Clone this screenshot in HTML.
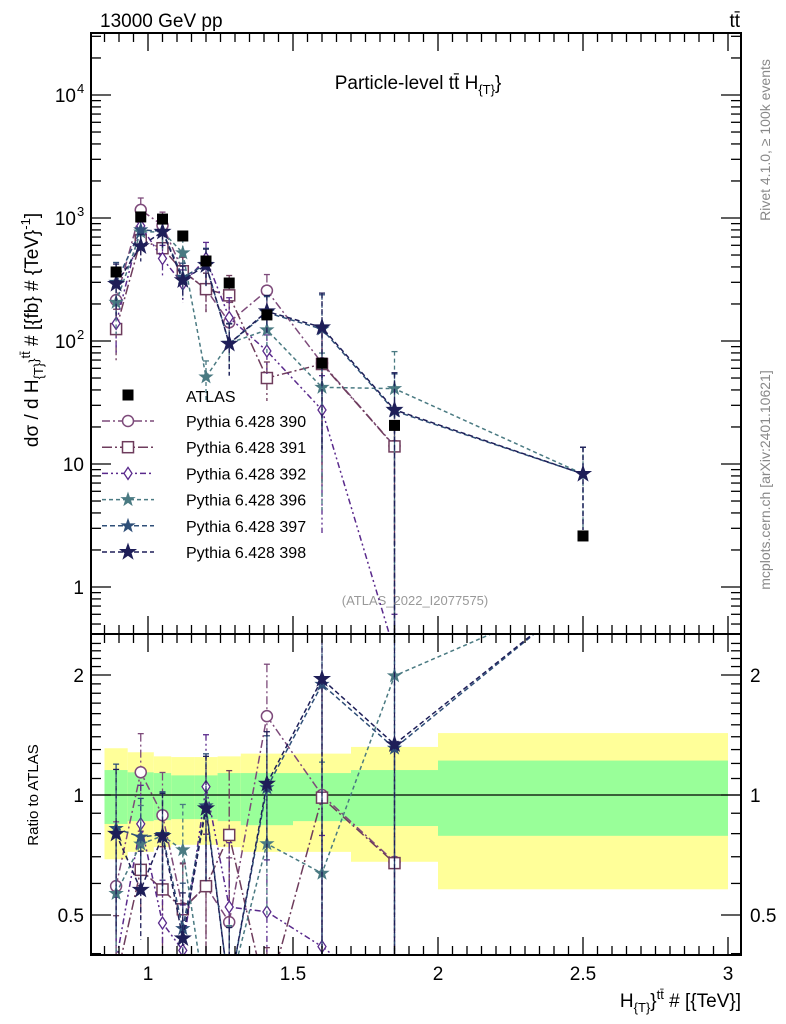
<!DOCTYPE html>
<html><head><meta charset="utf-8">
<style>
html,body{margin:0;padding:0;background:#fff;overflow:hidden;width:786px;height:1024px;}
svg{display:block;font-family:"Liberation Sans",sans-serif;}
</style></head>
<body>
<svg id="c" width="786" height="1024" viewBox="0 0 786 1024" xmlns="http://www.w3.org/2000/svg">
<rect width="786" height="1024" fill="#fff"/>
<text x="100" y="27" font-size="19">13000 GeV pp</text>
<text x="740" y="27" font-size="19" text-anchor="end">tt̄</text>
<text x="418" y="89" font-size="19" text-anchor="middle">Particle-level tt̄  H<tspan font-size="13" dy="5">{T}</tspan><tspan dy="-5">}</tspan></text>
<text transform="translate(38,330) rotate(-90)" font-size="19" text-anchor="middle">dσ / d H<tspan font-size="13" dy="5">{T}</tspan><tspan font-size="13" dy="-5">}</tspan><tspan font-size="13" dy="-8">tt̄</tspan><tspan dy="8"> # [{fb} # {TeV}</tspan><tspan font-size="13" dy="-8">-1</tspan><tspan dy="8">]</tspan></text>
<text transform="translate(770,140) rotate(-90)" font-size="14" fill="#888" text-anchor="middle">Rivet 4.1.0, ≥ 100k events</text>
<text transform="translate(770,480) rotate(-90)" font-size="14" fill="#888" text-anchor="middle">mcplots.cern.ch [arXiv:2401.10621]</text>
<text x="415" y="605" font-size="13" fill="#999" text-anchor="middle">(ATLAS_2022_I2077575)</text>
<text transform="translate(38,795) rotate(-90)" font-size="15" text-anchor="middle">Ratio to ATLAS</text>
<text x="741" y="1007" font-size="19" text-anchor="end">H<tspan font-size="13" dy="5">{T}</tspan><tspan dy="-5">}</tspan><tspan font-size="13" dy="-8">tt̄</tspan><tspan dy="8"> # [{TeV}]</tspan></text>
<g id="g"></g>
</svg>
<script>
const binEdges=[0.85,0.93,1.02,1.08,1.16,1.24,1.32,1.5,1.7,2.0,3.0];
const centers=[0.89,0.975,1.05,1.12,1.2,1.28,1.41,1.6,1.85,2.5];
const atlas=[364,1020,980,714,447,296,163,66,20.6,2.6];
const bandTotalUp=[1.31,1.28,1.25,1.245,1.245,1.25,1.27,1.27,1.32,1.43];
const bandTotalDn=[0.69,0.72,0.74,0.75,0.75,0.74,0.72,0.72,0.68,0.58];
const bandStatUp=[1.155,1.14,1.135,1.12,1.12,1.135,1.135,1.135,1.155,1.22];
const bandStatDn=[0.846,0.86,0.865,0.87,0.87,0.86,0.84,0.86,0.836,0.79];
const p390=[215,1163,872,371,264,142,257,66,14,null];
const p391=[125,662,568,369,264,235,50,65,13.9,null];
const p392=[139,863,468,291,469,155,83,27.5,0.3,null];
const p396=[206,768,774,520,51,96,123,42,41,8.3];
const p397=[300,800,780,330,420,95,170,125,27,8.3];
const p398=[291,590,773,312,414,95,174,129,27.6,8.3];
const relErr=[0.45,0.25,0.28,0.3,0.35,0.45,0.35,0.9,1.0,0.65];
const mainTicks=[[10000,"10"],[1000,"10"],[100,"10"],[10,"10"],[1,"1"]];
const mainExp=["4","3","2","",""];
const ratioTicks=[2,1,0.5];
const xTicks=[1,1.5,2,2.5,3];

const NS="http://www.w3.org/2000/svg";
const L=91,R=741,T=33,M=634,B=955;
const X=v=>148+(v-1)*290;
const Y=v=>218-(Math.log10(Math.max(v,0.3))-3)*123;
const YR=v=>795-Math.log2(Math.max(v,0.3))*120;
const g=document.getElementById('g');
function el(t,a,p){const e=document.createElementNS(NS,t);for(const k in a)e.setAttribute(k,a[k]);(p||g).appendChild(e);return e;}

const defs=el('defs',{});
const c1=el('clipPath',{id:'cm'},defs);el('rect',{x:L,y:T,width:R-L,height:M-T},c1);
const c2=el('clipPath',{id:'cr'},defs);el('rect',{x:L,y:M,width:R-L,height:B-M},c2);

const gb=el('g',{'clip-path':'url(#cr)'});
for(let i=0;i<centers.length;i++){
  const x0=X(binEdges[i]),x1=X(binEdges[i+1]);
  const y=el('rect',{x:x0,y:YR(bandTotalUp[i]),width:x1-x0,height:YR(bandTotalDn[i])-YR(bandTotalUp[i]),fill:'#ffff99'},gb);
  
  
  const gr=el('rect',{x:x0,y:YR(bandStatUp[i]),width:x1-x0,height:YR(bandStatDn[i])-YR(bandStatUp[i]),fill:'#99ff99'},gb);
  
  
}
el('line',{x1:L,x2:R,y1:YR(1),y2:YR(1),stroke:'#000','stroke-width':1.3});

const series=[
 {name:'Pythia 6.428 390',v:p390,col:'#7d4a7a',dash:'8,3,2,3',mk:'circle'},
 {name:'Pythia 6.428 391',v:p391,col:'#6e3c5c',dash:'10,3,2,3',mk:'square'},
 {name:'Pythia 6.428 392',v:p392,col:'#5a2a8c',dash:'6,3,2,3,2,3',mk:'diamond'},
 {name:'Pythia 6.428 396',v:p396,col:'#4a7a82',dash:'4,3',mk:'star'},
 {name:'Pythia 6.428 397',v:p397,col:'#2f4f78',dash:'5,3',mk:'star'},
 {name:'Pythia 6.428 398',v:p398,col:'#1e1e58',dash:'5,3',mk:'starfill'},
];
function starPts(cx,cy,r){let s='';for(let k=0;k<10;k++){const a=-Math.PI/2+k*Math.PI/5;const rr=k%2?r*0.4:r;s+=(cx+rr*Math.cos(a)).toFixed(1)+','+(cy+rr*Math.sin(a)).toFixed(1)+' ';}return s;}
function marker(par,type,cx,cy,col,nm){
  let m;
  if(type==='circle')m=el('circle',{cx,cy,r:5.5,fill:'#fff',stroke:col,'stroke-width':1.5},par);
  else if(type==='square')m=el('rect',{x:cx-5.5,y:cy-5.5,width:11,height:11,fill:'#fff',stroke:col,'stroke-width':1.5},par);
  else if(type==='diamond')m=el('polygon',{points:`${cx},${cy-6} ${cx+4},${cy} ${cx},${cy+6} ${cx-4},${cy}`,fill:'#fff',stroke:col,'stroke-width':1.3},par);
  else if(type==='star')m=el('polygon',{points:starPts(cx,cy,6.5),fill:col,stroke:col,'stroke-width':1},par);
  else if(type==='starfill')m=el('polygon',{points:starPts(cx,cy,8),fill:col,stroke:col},par);
  else m=el('rect',{x:cx-5.5,y:cy-5.5,width:11,height:11,fill:'#000'},par);
  
  
  return m;
}
function draw(par,yf,vals,s,ratio){
  let pts=[];
  vals.forEach((v,i)=>{ if(v==null)return;
    const rv=ratio?v/atlas[i]:v; pts.push([X(centers[i]),yf(rv)]);});
  const pl=el('polyline',{points:pts.map(p=>p.join(',')).join(' '),fill:'none',stroke:s.col,'stroke-width':1.5,'stroke-dasharray':s.dash},par);
  
  
  vals.forEach((v,i)=>{ if(v==null)return;
    const f=ratio?1/atlas[i]:1; const cx=X(centers[i]);
    if(ratio && v*f>2.6) return;
    const hi=v*(1+relErr[i])*f, lo=v*(1-relErr[i])*f;
    el('line',{x1:cx,x2:cx,y1:yf(hi),y2:yf(lo),stroke:s.col,'stroke-width':1.3,'stroke-dasharray':s.dash},par);
    el('line',{x1:cx-3,x2:cx+3,y1:yf(hi),y2:yf(hi),stroke:s.col,'stroke-width':1.3},par);
    if(yf(v*f)<(ratio?B+8:M+8)) marker(par,s.mk,cx,yf(v*f),s.col,'series-marker');
  });
}
const gm=el('g',{'clip-path':'url(#cm)'});
const gr2=el('g',{'clip-path':'url(#cr)'});
series.forEach(s=>{draw(gm,Y,s.v,s,false);draw(gr2,YR,s.v,s,true);});
atlas.forEach((v,i)=>{
  const cx=X(centers[i]);
  el('line',{x1:cx,x2:cx,y1:Y(v*1.04),y2:Y(v*0.96),stroke:'#000'},gm);
  marker(gm,'atlas',cx,Y(v),'#000','atlas-point');
});

const lg=el('g',{});


marker(lg,'atlas',128,395,'#000','legend-atlas-marker');
const lt=el('text',{x:186,y:402,'font-size':16},lg);lt.textContent='ATLAS';
series.forEach((s,k)=>{const y=421+k*26.2;
  el('line',{x1:102,x2:154,y1:y,y2:y,stroke:s.col,'stroke-width':1.5,'stroke-dasharray':s.dash},lg);
  marker(lg,s.mk,128,y,s.col,'legend-marker');
  const t=el('text',{x:186,y:y+6,'font-size':16},lg);t.textContent=s.name;
  
  
});

el('rect',{x:L,y:T,width:R-L,height:M-T,fill:'none',stroke:'#000','stroke-width':2});
el('rect',{x:L,y:M,width:R-L,height:B-M,fill:'none',stroke:'#000','stroke-width':2});
for(let v=0.85;v<=3.04;v+=0.05){const x=X(v);const maj=Math.abs(v*2-Math.round(v*2))<1e-6;const len=maj?18:9;
  [[T,1],[M,-1],[M,1],[B,-1]].forEach(([y,d])=>el('line',{x1:x,x2:x,y1:y,y2:y+d*len,stroke:'#000','stroke-width':1.3}));}
xTicks.forEach(v=>{const t=el('text',{x:X(v),y:980,'font-size':19,'text-anchor':'middle'});t.textContent=String(v);
  });
for(let e=-1;e<=4;e++)for(let m=1;m<10;m++){const v=m*Math.pow(10,e);const y=Y(v);if(y<T||y>M)continue;const len=m===1?20:10;
  el('line',{x1:L,x2:L+len,y1:y,y2:y,stroke:'#000','stroke-width':1.3});el('line',{x1:R,x2:R-len,y1:y,y2:y,stroke:'#000','stroke-width':1.3});}
mainTicks.forEach(([v,s],k)=>{const t=el('text',{x:mainExp[k]?76:84,y:Y(v)+7,'font-size':19,'text-anchor':'end'});t.textContent=s;
  
  if(mainExp[k]){const e=el('text',{x:77,y:Y(v)-2,'font-size':13});e.textContent=mainExp[k];}});
for(let v=0.4;v<=2.5;v+=0.1){const y=YR(v);if(y<M||y>B)continue;const maj=[0.5,1,2].some(q=>Math.abs(q-v)<1e-6);const len=maj?20:10;
  el('line',{x1:L,x2:L+len,y1:y,y2:y,stroke:'#000','stroke-width':1.3});el('line',{x1:R,x2:R-len,y1:y,y2:y,stroke:'#000','stroke-width':1.3});}
ratioTicks.forEach(v=>{const y=YR(v)+7;
  const a=el('text',{x:84,y,'font-size':19,'text-anchor':'end'});a.textContent=String(v);
  
  const b=el('text',{x:750,y,'font-size':19});b.textContent=String(v);
  });
</script>
</body></html>
